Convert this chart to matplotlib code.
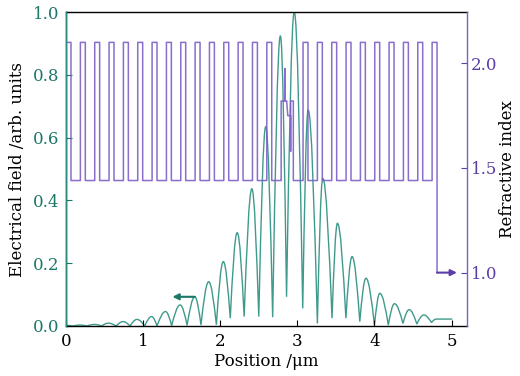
import matplotlib
matplotlib.use('Agg')
import matplotlib.pyplot as plt
from matplotlib.path import Path
from matplotlib.patches import PathPatch

plt.rcParams['font.family'] = 'DejaVu Serif'
plt.rcParams['mathtext.fontset'] = 'dejavuserif'

# |E| along the structure: alternating maxima / minima (position in um, arb. units)
field_x = [0.00, 0.09, 0.18, 0.27, 0.37, 0.46, 0.55, 0.65, 0.74, 0.83,
           0.92, 1.02, 1.11, 1.18, 1.29, 1.37, 1.48, 1.57, 1.67, 1.75,
           1.85, 1.95, 2.04, 2.13, 2.22, 2.31, 2.41, 2.50, 2.59, 2.68,
           2.78, 2.86, 2.96, 3.07, 3.14, 3.26, 3.33, 3.45, 3.52, 3.63,
           3.71, 3.81, 3.89, 4.00, 4.07, 4.18, 4.26, 4.37, 4.45, 4.55,
           4.64, 4.74, 4.80, 5.01]
field_e = [0.002, 0.000, 0.003, 0.000, 0.005, 0.000, 0.009, 0.000, 0.014, 0.000,
           0.021, 0.000, 0.030, 0.000, 0.046, 0.001, 0.067, 0.002, 0.093, 0.003,
           0.141, 0.004, 0.205, 0.025, 0.297, 0.030, 0.437, 0.030, 0.635, 0.028,
           0.924, 0.093, 1.000, 0.056, 0.688, 0.008, 0.470, 0.025, 0.327, 0.025,
           0.221, 0.014, 0.152, 0.003, 0.104, 0.003, 0.071, 0.008, 0.052, 0.006,
           0.035, 0.011, 0.022, 0.022]

# layer stack
n_air, n_hi, n_lo = 1.0, 2.1, 1.44
d_hi, d_lo = 0.064, 0.122
pairs_left, pairs_right = 15, 10
spacer_lo = 0.126
# cavity profile between the two mirrors
cavity_x = [2.790, 2.790, 2.838, 2.838, 2.838, 2.862, 2.876, 2.913, 2.913, 2.913, 2.948, 2.948]
cavity_n = [n_lo, 1.82, 1.82, 1.975, 1.82, 1.82, 1.75, 1.75, 1.58, 1.82, 1.82, n_lo]

teal = '#2a8f80'
teal_dark = '#1b7767'
purple = '#7d5ec6'
purple_dark = '#5b3ea8'


def index_profile():
    xs, ns = [0.0], [n_air]
    pos = 0.0
    for _ in range(pairs_left):
        xs += [pos, pos + d_hi, pos + d_hi, pos + d_hi + d_lo]
        ns += [n_hi, n_hi, n_lo, n_lo]
        pos += d_hi + d_lo
    xs += cavity_x
    ns += cavity_n
    pos = cavity_x[-1] + spacer_lo
    xs.append(pos)
    ns.append(n_lo)
    for i in range(pairs_right):
        xs += [pos, pos + d_hi, pos + d_hi]
        ns += [n_hi, n_hi, n_lo if i < pairs_right - 1 else n_air]
        if i < pairs_right - 1:
            xs.append(pos + d_hi + d_lo)
            ns.append(n_lo)
        pos += d_hi + d_lo
    return xs, ns


def field_path(xs, ys):
    # cusp at each minimum, rounded at each maximum (sine-like cubic pieces)
    verts = [(xs[0], ys[0])]
    codes = [Path.MOVETO]
    for i in range(len(xs) - 1):
        x0, y0, x1, y1 = xs[i], ys[i], xs[i + 1], ys[i + 1]
        dx, dy = x1 - x0, y1 - y0
        if i % 2 == 1:  # minimum -> maximum
            c1 = (x0 + 0.334 * dx, y0 + 0.525 * dy)
            c2 = (x0 + 0.637 * dx, y1)
        else:  # maximum -> minimum
            c1 = (x0 + 0.363 * dx, y0)
            c2 = (x0 + 0.666 * dx, y0 + 0.475 * dy)
        verts += [c1, c2, (x1, y1)]
        codes += [Path.CURVE4] * 3
    return Path(verts, codes)


fig = plt.figure(figsize=(5.2, 3.76), dpi=100)
ax1 = fig.add_axes([0.127, 0.133, 0.771, 0.835])
ax2 = ax1.twinx()

ax1.add_patch(PathPatch(field_path(field_x, field_e), fill=False,
                        edgecolor=teal, lw=1.0, alpha=0.9))
idx_x, idx_n = index_profile()
ax2.plot(idx_x, idx_n, color=purple, lw=1.1, alpha=0.9)

# axis pointers
ax1.annotate('', xy=(1.38, field_e[18]), xytext=(field_x[18], field_e[18]),
             arrowprops=dict(arrowstyle='-|>', color=teal_dark, lw=1.5,
                             mutation_scale=9, shrinkA=0, shrinkB=0))
ax2.annotate('', xy=(5.07, n_air), xytext=(idx_x[-1], n_air),
             arrowprops=dict(arrowstyle='-|>', color=purple_dark, lw=1.5,
                             mutation_scale=9, shrinkA=0, shrinkB=0))

ax1.set_xlim(0, 5.2)
ax1.set_ylim(0, 1.0)
ax2.set_ylim(0.745, 2.245)

ax1.set_xticks([0, 1, 2, 3, 4, 5])
ax1.set_yticks([0.0, 0.2, 0.4, 0.6, 0.8, 1.0])
ax1.set_yticklabels(['0.0', '0.2', '0.4', '0.6', '0.8', '1.0'])
ax2.set_yticks([1.0, 1.5, 2.0])
ax2.set_yticklabels(['1.0', '1.5', '2.0'])

ax1.tick_params(axis='x', direction='in', length=4, width=0.8, labelsize=12, pad=5)
ax1.tick_params(axis='y', direction='in', length=4, width=0.8, labelsize=12,
                colors=teal_dark, pad=5)
ax2.tick_params(axis='y', direction='in', length=4, width=0.8, labelsize=12,
                colors=purple_dark, pad=3)

ax1.spines['right'].set_visible(False)
ax2.spines['top'].set_visible(False)
ax2.spines['bottom'].set_visible(False)
ax2.spines['left'].set_color(teal)
ax2.spines['right'].set_color(purple)
for sp in ('left', 'top', 'bottom'):
    ax1.spines[sp].set_linewidth(1.0)
ax2.spines['left'].set_linewidth(1.0)
ax2.spines['right'].set_linewidth(1.0)

ax1.set_xlabel('Position /μm', fontsize=12, labelpad=2)
ax1.set_ylabel('Electrical field /arb. units', fontsize=12, labelpad=5)
ax2.set_ylabel('Refractive index', fontsize=12, labelpad=1)

fig.savefig('out.png', dpi=100)
